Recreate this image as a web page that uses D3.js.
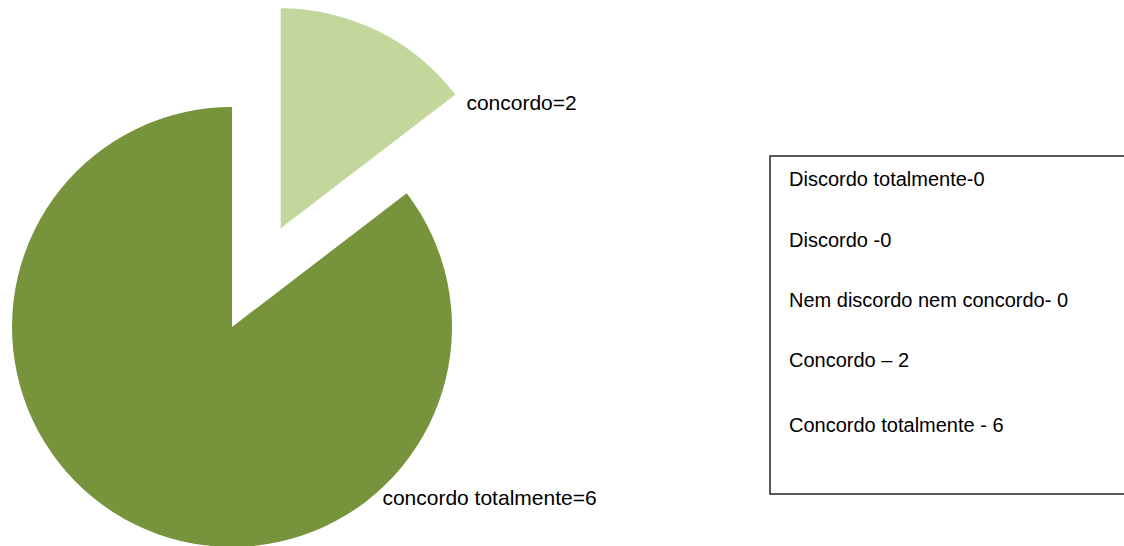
<!DOCTYPE html>
<html>
<head>
<meta charset="utf-8">
<script src="https://cdn.jsdelivr.net/npm/d3@7"></script>
<style>
  html, body { margin: 0; padding: 0; background: #fff; }
  svg { display: block; font-family: "Liberation Sans", Arial, sans-serif; }
</style>
</head>
<body>
<svg id="chart"></svg>
<script>
// Data
const categories = ['concordo', 'concordo totalmente'];
const counts = [2, 6];
// share of the circle each slice takes in the drawing
const sliceShare = [14.6, 85.4];
const sliceColors = ['#c3d69b', '#77933c'];

const legendLines = [
    'Discordo totalmente-0',
    'Discordo -0',
    'Nem discordo nem concordo- 0',
    'Concordo \u2013 2',
    'Concordo totalmente - 6'
];

document.addEventListener('DOMContentLoaded', function() {
    const width = 1124;
    const height = 546;
    const cx = 232, cy = 327;
    const radius = 220;
    const explode = 110;

    const svg = d3.select('#chart')
        .attr('width', width)
        .attr('height', height);

    const data = categories.map((c, i) => ({ label: c, count: counts[i], share: sliceShare[i], color: sliceColors[i] }));

    // Pie layout, starting at 12 o'clock and going clockwise
    const pie = d3.pie()
        .sort(null)
        .value(d => d.share);

    const arc = d3.arc()
        .innerRadius(0)
        .outerRadius(radius);

    const arcs = pie(data);

    const g = svg.append('g')
        .attr('transform', `translate(${cx}, ${cy})`);

    // first slice (concordo) is pulled out from the centre
    const offset = d => {
        if (d.index !== 0) return [0, 0];
        const mid = (d.startAngle + d.endAngle) / 2;
        return [Math.sin(mid) * explode, -Math.cos(mid) * explode];
    };

    g.selectAll('path.slice')
        .data(arcs)
        .enter()
        .append('path')
        .attr('class', 'slice')
        .attr('transform', d => `translate(${offset(d)})`)
        .attr('d', arc)
        .attr('fill', d => d.data.color);

    // Data labels, outside the outer edge
    const labelPos = d => {
        const o = offset(d);
        if (d.index === 0) {
            // near the end of the outer edge of the pulled out slice
            const a = d.endAngle;
            return [o[0] + Math.sin(a) * radius + 11, o[1] - Math.cos(a) * radius + 15];
        }
        const a = 2.44;
        return [Math.sin(a) * 233, -Math.cos(a) * 233];
    };

    g.selectAll('text.lbl')
        .data(arcs)
        .enter()
        .append('text')
        .attr('class', 'lbl')
        .attr('x', d => labelPos(d)[0])
        .attr('y', d => labelPos(d)[1])
        .style('font-size', '21px')
        .attr('fill', '#000')
        .text(d => `${d.data.label}=${d.data.count}`);

    // Legend box
    const legend = svg.append('g');
    legend.append('rect')
        .attr('x', 770)
        .attr('y', 156)
        .attr('width', 420)
        .attr('height', 338)
        .attr('fill', '#fff')
        .attr('stroke', '#222')
        .attr('stroke-width', 1.5);

    const rowY = [186, 247, 307, 367, 432];
    legend.selectAll('text')
        .data(legendLines)
        .enter()
        .append('text')
        .attr('x', 789)
        .attr('y', (d, i) => rowY[i])
        .style('font-size', '20px')
        .attr('fill', '#000')
        .text(d => d);
});
</script>
</body>
</html>
